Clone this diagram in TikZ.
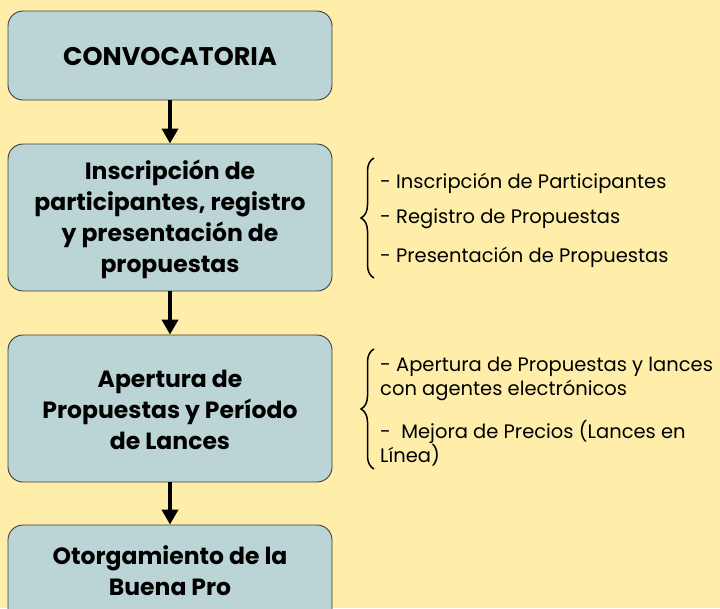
\documentclass[tikz,border=0pt]{standalone}
\usepackage{fontspec}
\setmainfont{Poppins}
\usetikzlibrary{arrows.meta,decorations.pathreplacing}
\definecolor{bgy}{RGB}{255,238,170}
\definecolor{boxc}{RGB}{187,213,214}
\definecolor{edgec}{RGB}{60,60,60}
\tikzset{
  stage/.style={draw=edgec,line width=0.9pt,fill=boxc,rounded corners=15pt,minimum width=324pt,inner sep=0pt},
  stagetext/.style={font=\bfseries\fontsize{23.5}{31}\selectfont,align=center},
  flow/.style={line width=4.5pt,-{Triangle[width=16pt,length=15pt]}},
  item/.style={anchor=west,font=\fontsize{19.5}{24}\selectfont,align=left,inner sep=0pt},
  bracestyle/.style={decorate,decoration={brace,amplitude=13pt,mirror},line width=1.5pt}
}
\begin{document}
\begin{tikzpicture}[x=1pt,y=-1pt]
\useasboundingbox (0,0) rectangle (720,608);
\fill[bgy] (0,0) rectangle (720,608);
\clip (0,0) rectangle (720,608);
\node[stage,minimum height=89pt] (b1) at (170,55.5) {};
\node[stagetext,font=\bfseries\fontsize{25.5}{31}\selectfont] (t1) at (170,57) {CONVOCATORIA};
\node[stage,minimum height=147pt] (b2) at (170,217.5) {};
\node[stagetext] (t2) at (170,219) {Inscripción de\\participantes, registro\\y presentación de\\propuestas};
\node[stage,minimum height=147pt] (b3) at (170,408.5) {};
\node[stagetext] (t3) at (170,410) {Apertura de\\Propuestas y Período\\de Lances};
\node[stage,minimum height=160pt] (b4) at (170,605) {};
\node[stagetext] (t4) at (170,571) {Otorgamiento de la\\Buena Pro};
\draw[flow] (b1.south) -- (b2.north);
\draw[flow] (b2.south) -- (b3.north);
\draw[flow] (b3.south) -- (b4.north);
\coordinate (br1a) at (374,158);
\coordinate (br1b) at (374,278);
\draw[bracestyle] (br1a) -- (br1b);
\node[item] (i1) at (380,183) {- Inscripción de Participantes};
\node[item] (i2) at (380,219) {- Registro de Propuestas};
\node[item] (i3) at (380,257) {- Presentación de Propuestas};
\coordinate (br2a) at (374,349);
\coordinate (br2b) at (374,469);
\draw[bracestyle] (br2a) -- (br2b);
\node[item] (j1) at (380,379) {- Apertura de Propuestas y lances\\con agentes electrónicos};
\node[item] (j2) at (380,443) {-\ \ Mejora de Precios (Lances en\\Línea)};
\end{tikzpicture}
\end{document}
